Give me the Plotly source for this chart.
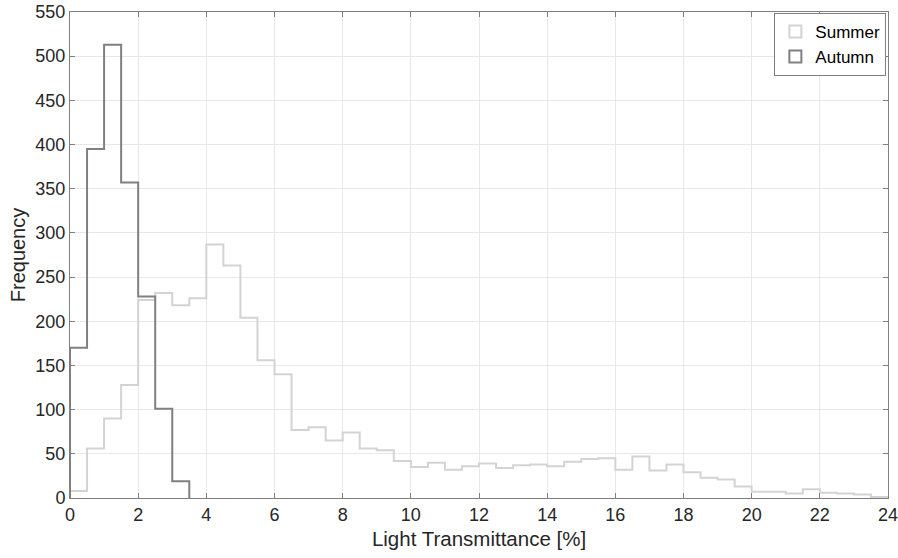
import plotly.graph_objects as go

# Bin edges (0.5 % wide bins)
bin_width = 0.5
summer_counts = [8, 56, 90, 128, 224, 232, 218, 226, 287, 263, 204, 156, 140, 77, 80, 65,
                 74, 56, 54, 42, 35, 40, 32, 36, 39, 34, 37, 38, 36, 41, 44, 45,
                 32, 47, 31, 38, 29, 23, 21, 13, 7, 7, 5, 10, 6, 5, 4, 1]
autumn_counts = [170, 395, 513, 357, 228, 101, 19]

x_ticks = list(range(0, 25, 2))
y_ticks = list(range(0, 551, 50))


def stairs(counts, width):
    edges = [i * width for i in range(len(counts) + 1)]
    xs = [edges[0]] + edges[:-1] + [edges[-1], edges[-1]]
    ys = [0] + list(counts) + [counts[-1], 0]
    return xs, ys


fig = go.Figure()
for name, counts, color in [("Summer", summer_counts, "#d3d3d3"),
                            ("Autumn", autumn_counts, "#808080")]:
    xs, ys = stairs(counts, bin_width)
    fig.add_trace(go.Scatter(x=xs, y=ys, mode="lines", line=dict(color=color, width=2, shape="hv"),
                             showlegend=False, hoverinfo="skip"))
    fig.add_trace(go.Bar(x=[None], y=[None], name=name,
                         marker=dict(color="rgba(255,255,255,0)", line=dict(color=color, width=2))))

axis_common = dict(showline=True, linecolor="#7f7f7f", linewidth=1, mirror="ticks",
                   ticks="inside", ticklen=5, tickcolor="#7f7f7f", automargin=False,
                   ticklabeloverflow="allow",
                   showgrid=True, gridcolor="#e8e8e8", gridwidth=1, zeroline=False,
                   tickfont=dict(size=18, color="#262626"))

fig.update_layout(
    width=898, height=558,
    margin=dict(l=70, r=10, t=12, b=60),
    plot_bgcolor="white", paper_bgcolor="white",
    font=dict(family="Liberation Sans, Arial, sans-serif", color="#262626"),
    xaxis=dict(range=[0, 24], tickvals=x_ticks,
               title=dict(text="Light Transmittance [%]", font=dict(size=20.5), standoff=8),
               **axis_common),
    yaxis=dict(range=[0, 550], tickvals=y_ticks,
               title=dict(text="Frequency", font=dict(size=20), standoff=4),
               **axis_common),
    legend=dict(x=0.998, y=0.998, xanchor="right", yanchor="top",
                bgcolor="white", bordercolor="#7f7f7f", borderwidth=1,
                font=dict(size=17, color="#000000"), tracegroupgap=0,
                itemwidth=30),
    showlegend=True,
)

fig.write_html("out.html")
